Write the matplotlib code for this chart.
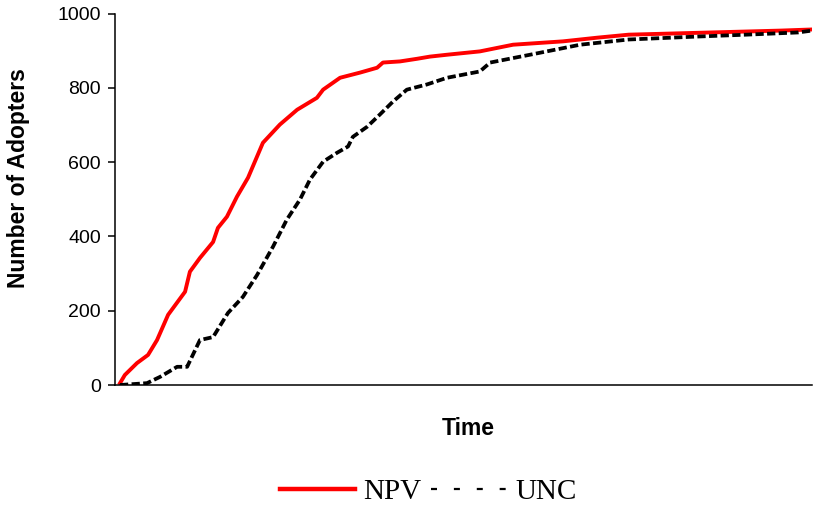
import matplotlib
matplotlib.use("Agg")
import matplotlib.pyplot as plt
from matplotlib.lines import Line2D

# Time steps (arbitrary units; axis has no tick labels)
npv_t = [0, 1.4, 4.9, 8.1, 10.7, 13.9, 18.8, 20.2, 23.1, 26.9, 28.3, 30.9, 33.8, 37.0,
         41.3, 46.2, 51.2, 56.9, 58.7, 63.6, 69.4, 74.3, 76.0, 80.9, 85.8, 89.6, 94.5,
         104, 113.6, 128, 138, 147, 171, 191, 200]
npv_v = [5, 27, 59, 81, 121, 189, 251, 305, 342, 385, 423, 453, 507, 558,
         652, 701, 741, 773, 795, 827, 841, 854, 868, 871, 878, 884, 889,
         898, 916, 925, 935, 943, 949, 954, 957]

unc_t = [0, 7.8, 11.6, 16.5, 19.4, 23.1, 26.9, 31.2, 35.5, 39.6, 44.2, 48.2, 52.0,
         54.9, 58.7, 62.7, 65.9, 67.3, 71.4, 75.1, 78.9, 82.9, 88.7, 94.5,
         104, 107, 118.5, 133, 147, 167, 181, 196, 200]
unc_v = [0, 5, 22, 49, 49, 121, 129, 194, 237, 296, 372, 445, 499,
         553, 601, 625, 642, 668, 695, 728, 763, 795, 809, 827,
         844, 868, 889, 916, 930, 938, 943, 949, 954]

y_ticks = [0, 200, 400, 600, 800, 1000]

sans = ["Liberation Sans", "DejaVu Sans"]
serif = ["Liberation Serif", "DejaVu Serif"]

fig = plt.figure(figsize=(8.14, 5.09), dpi=100)
ax = fig.add_axes([115/814, 1 - 385/509, (812-115)/814, (385-13.5)/509])

ax.plot(npv_t, npv_v, color="#ff0000", lw=2.8, solid_joinstyle="round")
ax.plot(unc_t, unc_v, color="black", lw=2.7, dashes=(2.2, 0.9))

ax.set_xlim(-1.45, 200)
ax.set_ylim(0, 1000)
ax.set_yticks(y_ticks)
ax.set_xticks([])
ax.tick_params(axis="y", direction="out", length=5, width=1.1,
               labelsize=14, pad=5)
for lab in ax.get_yticklabels():
    lab.set_family(sans)
for s in ["top", "right"]:
    ax.spines[s].set_visible(False)
for s in ["left", "bottom"]:
    ax.spines[s].set_linewidth(1.1)

ax.set_ylabel("Number of Adopters", fontsize=16.5, fontweight="bold", family=sans)
ax.yaxis.set_label_coords((30 - 115) / 697, (385 - 178) / 371.5)
ax.set_xlabel("Time", fontsize=16.5, fontweight="bold", family=sans)
ax.xaxis.set_label_coords((468 - 115) / 697, (385 - 417) / 371.5)
ax.xaxis.label.set_verticalalignment("top")

h1 = Line2D([], [], color="#ff0000", lw=3.2)
h2 = Line2D([], [], color="black", lw=1.6, dashes=(2.7, 7.6))
fig.legend([h1, h2], ["NPV", "UNC"], loc="center",
           bbox_to_anchor=(428/814, 1 - 492/509), ncol=2, frameon=False,
           prop={"family": serif, "size": 21},
           handlelength=2.6, handletextpad=0.27, columnspacing=0.34,
           borderpad=0, borderaxespad=0)

fig.savefig("out.png", dpi=100)
